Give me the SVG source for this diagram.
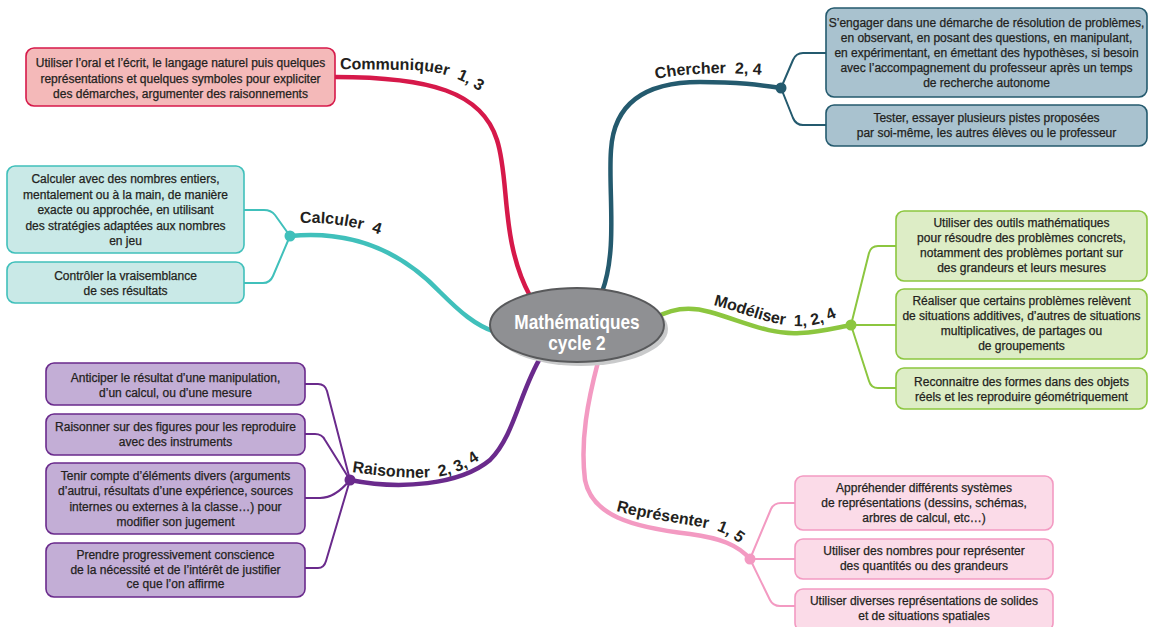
<svg xmlns="http://www.w3.org/2000/svg" width="1156" height="627" viewBox="0 0 1156 627">
<style>
.t{font-family:"Liberation Sans",Arial,sans-serif;font-size:12px;fill:#231f20;text-anchor:middle;stroke:#231f20;stroke-width:0.25}
.lbl{font-family:"Liberation Sans",Arial,sans-serif;font-weight:bold;font-size:16px;fill:#231f20;white-space:pre}
.main{fill:none;stroke-width:4.5;stroke-linecap:round}
.sub{fill:none;stroke-width:2;stroke-linejoin:round}
.box{stroke-width:1.6}
.red{stroke:#d6194a}.redf{fill:#f4b9b9}
.blue{stroke:#245a6e}.bluef{fill:#a9c2cf}
.cyan{stroke:#40c0bb}.cyanf{fill:#c9e9e7}
.green{stroke:#8cc63f}.greenf{fill:#ddedc6}
.purple{stroke:#6a2a8c}.purplef{fill:#c3aed6}
.pink{stroke:#f39ac2}.pinkf{fill:#fbdbe8}
</style>
<defs>
<path id="pComm" d="M340,69 L410,70 C445,71 470,80 500,108"/>
<path id="pCher" d="M656,79 C690,72 730,72 775,76"/>
<path id="pCalc" d="M300,223 C330,222 360,226 395,240"/>
<path id="pMod" d="M713,305 C745,313 770,326 800,326 C820,326 838,318 855,306"/>
<path id="pRais" d="M352,472 C380,476 410,479 435,477 C455,475 472,467 492,450"/>
<path id="pRep" d="M616,511 C650,520 690,524 715,530 C728,534 740,542 752,556"/>
</defs>
<rect width="1156" height="627" fill="#ffffff"/>

<g id="connectors">
  <path class="main red" d="M335,77 C430,77 482,92 497,140 C510,180 500,240 530,296"/>
  <path class="main blue" d="M602,292 C618,250 608,190 611,150 C614,100 650,82 700,82 C740,82 760,85 781,88"/>
  <path class="main cyan" d="M290,236 C350,230 400,250 440,292 C460,312 475,325 495,332"/>
  <path class="main green" d="M655,318 C672,308 690,306 710,312 C745,322 770,335 800,333 C820,332 835,328 851,325"/>
  <path class="main purple" d="M350,480 C400,490 460,485 490,460 C515,435 520,390 542,355"/>
  <path class="main pink" d="M598,362 C588,400 580,440 585,480 C592,515 630,527 690,534 C720,538 738,545 750,559"/>

  <path class="sub blue" d="M781,88 L793,60 Q796,53 803,53 L826,53"/>
  <path class="sub blue" d="M781,88 L793,118 Q796,125 803,125 L826,125"/>
  <circle cx="781" cy="88" r="5.5" fill="#245a6e"/>

  <path class="sub cyan" d="M290,236 L275,215 Q271,210 264,210 L244,210"/>
  <path class="sub cyan" d="M290,236 L273,276 Q270,283 263,283 L244,283"/>
  <circle cx="290" cy="236" r="5.5" fill="#40c0bb"/>

  <path class="sub green" d="M851,325 L869,253 Q871,246 878,246 L896,246"/>
  <path class="sub green" d="M851,325 L896,325"/>
  <path class="sub green" d="M851,325 L869,381 Q871,388 878,388 L896,388"/>
  <circle cx="851" cy="325" r="5.5" fill="#8cc63f"/>

  <path class="sub purple" d="M305,384 L318,384 Q325,384 327,391 L350,480"/>
  <path class="sub purple" d="M305,434 L315,434 Q322,434 325,440 L350,480"/>
  <path class="sub purple" d="M305,498 L320,498 Q335,498 350,480"/>
  <path class="sub purple" d="M305,568 L318,568 Q324,568 326,561 L350,480"/>
  <circle cx="350" cy="480" r="5.5" fill="#6a2a8c"/>

  <path class="sub pink" d="M750,559 L771,509 Q774,503 781,503 L795,503"/>
  <path class="sub pink" d="M750,559 L795,559"/>
  <path class="sub pink" d="M750,559 L770,600 Q773,606 780,606 L795,606"/>
  <circle cx="750" cy="559" r="5.5" fill="#f39ac2"/>
</g>

<g id="labels">
  <text class="lbl"><textPath href="#pComm">Communiquer  1, 3</textPath></text>
  <text class="lbl"><textPath href="#pCher">Chercher  2, 4</textPath></text>
  <text class="lbl"><textPath href="#pCalc">Calculer  4</textPath></text>
  <text class="lbl"><textPath href="#pMod">Modéliser  1, 2, 4</textPath></text>
  <text class="lbl"><textPath href="#pRais">Raisonner  2, 3, 4</textPath></text>
  <text class="lbl"><textPath href="#pRep">Représenter  1, 5</textPath></text>
</g>

<g id="center">
  <ellipse cx="581" cy="329" rx="87" ry="37" fill="#c9cacb"/>
  <ellipse cx="577" cy="325" rx="87" ry="37" fill="#8f9093" stroke="#58595b" stroke-width="2"/>
  <g transform="matrix(0.82 0 0 1 103.86 0)" font-family="Liberation Sans, Arial, sans-serif" font-weight="bold" font-size="21" fill="#ffffff" text-anchor="middle">
    <text x="577" y="329">Mathématiques</text>
    <text x="577" y="350">cycle 2</text>
  </g>
</g>

<g id="communiquer-1">
  <rect class="box red redf" x="26" y="48" width="309" height="58" rx="8"/>
  <text class="t" x="180.5" y="67">Utiliser l’oral et l’écrit, le langage naturel puis quelques</text>
  <text class="t" x="180.5" y="82.5">représentations et quelques symboles pour expliciter</text>
  <text class="t" x="180.5" y="98">des démarches, argumenter des raisonnements</text>
</g>

<g id="chercher-1">
  <rect class="box blue bluef" x="826" y="8" width="321" height="89" rx="8"/>
  <text class="t" x="986.5" y="27">S’engager dans une démarche de résolution de problèmes,</text>
  <text class="t" x="986.5" y="42">en observant, en posant des questions, en manipulant,</text>
  <text class="t" x="986.5" y="57">en expérimentant, en émettant des hypothèses, si besoin</text>
  <text class="t" x="986.5" y="72">avec l’accompagnement du professeur après un temps</text>
  <text class="t" x="986.5" y="87">de recherche autonome</text>
</g>
<g id="chercher-2">
  <rect class="box blue bluef" x="826" y="105" width="321" height="41" rx="8"/>
  <text class="t" x="986.5" y="122">Tester, essayer plusieurs pistes proposées</text>
  <text class="t" x="986.5" y="137">par soi-même, les autres élèves ou le professeur</text>
</g>

<g id="calculer-1">
  <rect class="box cyan cyanf" x="7" y="166" width="237" height="87" rx="8"/>
  <text class="t" x="125.5" y="183">Calculer avec des nombres entiers,</text>
  <text class="t" x="125.5" y="198.5">mentalement ou à la main, de manière</text>
  <text class="t" x="125.5" y="214">exacte ou approchée, en utilisant</text>
  <text class="t" x="125.5" y="229.5">des stratégies adaptées aux nombres</text>
  <text class="t" x="125.5" y="245">en jeu</text>
</g>
<g id="calculer-2">
  <rect class="box cyan cyanf" x="7" y="262" width="237" height="41" rx="8"/>
  <text class="t" x="125.5" y="280">Contrôler la vraisemblance</text>
  <text class="t" x="125.5" y="295">de ses résultats</text>
</g>

<g id="modeliser-1">
  <rect class="box green greenf" x="896" y="211" width="251" height="70" rx="8"/>
  <text class="t" x="1021.5" y="227">Utiliser des outils mathématiques</text>
  <text class="t" x="1021.5" y="242">pour résoudre des problèmes concrets,</text>
  <text class="t" x="1021.5" y="257">notamment des problèmes portant sur</text>
  <text class="t" x="1021.5" y="272">des grandeurs et leurs mesures</text>
</g>
<g id="modeliser-2">
  <rect class="box green greenf" x="896" y="289" width="251" height="70" rx="8"/>
  <text class="t" x="1021.5" y="305">Réaliser que certains problèmes relèvent</text>
  <text class="t" x="1021.5" y="320">de situations additives, d’autres de situations</text>
  <text class="t" x="1021.5" y="335">multiplicatives, de partages ou</text>
  <text class="t" x="1021.5" y="350">de groupements</text>
</g>
<g id="modeliser-3">
  <rect class="box green greenf" x="896" y="368" width="251" height="41" rx="8"/>
  <text class="t" x="1021.5" y="386">Reconnaitre des formes dans des objets</text>
  <text class="t" x="1021.5" y="401">réels et les reproduire géométriquement</text>
</g>

<g id="raisonner-1">
  <rect class="box purple purplef" x="46" y="363" width="259" height="42" rx="8"/>
  <text class="t" x="175.5" y="382">Anticiper le résultat d’une manipulation,</text>
  <text class="t" x="175.5" y="397">d’un calcul, ou d’une mesure</text>
</g>
<g id="raisonner-2">
  <rect class="box purple purplef" x="46" y="414" width="259" height="41" rx="8"/>
  <text class="t" x="175.5" y="431">Raisonner sur des figures pour les reproduire</text>
  <text class="t" x="175.5" y="446">avec des instruments</text>
</g>
<g id="raisonner-3">
  <rect class="box purple purplef" x="46" y="463" width="259" height="71" rx="8"/>
  <text class="t" x="175.5" y="479.5">Tenir compte d’éléments divers (arguments</text>
  <text class="t" x="175.5" y="495">d’autrui, résultats d’une expérience, sources</text>
  <text class="t" x="175.5" y="510.5">internes ou externes à la classe…) pour</text>
  <text class="t" x="175.5" y="526">modifier son jugement</text>
</g>
<g id="raisonner-4">
  <rect class="box purple purplef" x="46" y="543" width="259" height="54" rx="8"/>
  <text class="t" x="175.5" y="559">Prendre progressivement conscience</text>
  <text class="t" x="175.5" y="573.5">de la nécessité et de l’intérêt de justifier</text>
  <text class="t" x="175.5" y="588">ce que l’on affirme</text>
</g>

<g id="representer-1">
  <rect class="box pink pinkf" x="795" y="476" width="258" height="54" rx="8"/>
  <text class="t" x="924" y="492">Appréhender différents systèmes</text>
  <text class="t" x="924" y="507">de représentations (dessins, schémas,</text>
  <text class="t" x="924" y="522">arbres de calcul, etc…)</text>
</g>
<g id="representer-2">
  <rect class="box pink pinkf" x="795" y="539" width="258" height="40" rx="8"/>
  <text class="t" x="924" y="555">Utiliser des nombres pour représenter</text>
  <text class="t" x="924" y="570">des quantités ou des grandeurs</text>
</g>
<g id="representer-3">
  <rect class="box pink pinkf" x="795" y="589" width="258" height="42" rx="8"/>
  <text class="t" x="924" y="605">Utiliser diverses représentations de solides</text>
  <text class="t" x="924" y="619.5">et de situations spatiales</text>
</g>
</svg>
